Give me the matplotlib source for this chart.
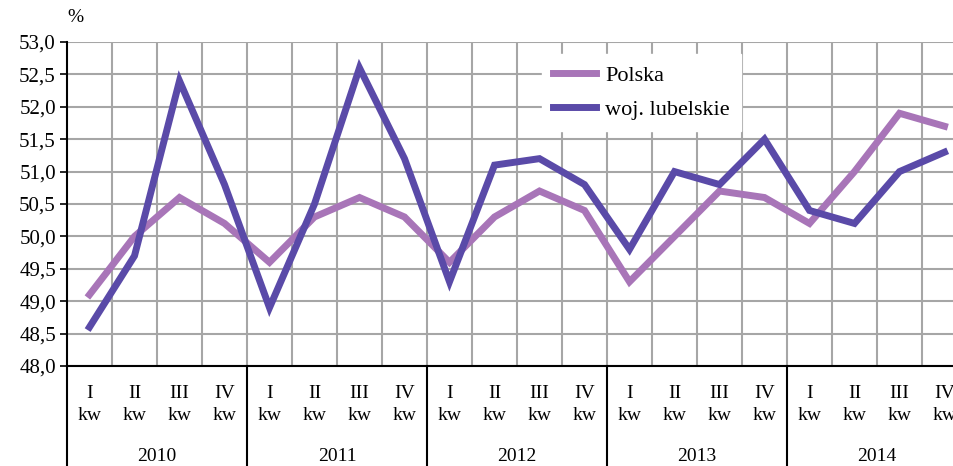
import matplotlib
matplotlib.use("Agg")
import matplotlib.pyplot as plt
from matplotlib.ticker import FuncFormatter, MultipleLocator
import matplotlib.transforms as mtransforms

plt.rcParams['font.family'] = ['Liberation Serif', 'DejaVu Serif']

years = ["2010", "2011", "2012", "2013", "2014"]
quarters = ["I", "II", "III", "IV"]
polska = [49.1, 50.0, 50.6, 50.2,
          49.6, 50.3, 50.6, 50.3,
          49.6, 50.3, 50.7, 50.4,
          49.3, 50.0, 50.7, 50.6,
          50.2, 51.0, 51.9, 51.7]
lubelskie = [48.6, 49.7, 52.4, 50.8,
             48.9, 50.5, 52.6, 51.2,
             49.3, 51.1, 51.2, 50.8,
             49.8, 51.0, 50.8, 51.5,
             50.4, 50.2, 51.0, 51.3]

n = len(polska)
x = list(range(n))

fig = plt.figure(figsize=(9.54, 4.66), dpi=100)
# axes extends past the right edge, as in the cropped original
ax = fig.add_axes([67 / 954, 1 - 366 / 466, 900 / 954, 324 / 466])

ax.plot(x, polska, color="#A875B8", lw=5, solid_joinstyle="miter", label="Polska", zorder=3)
ax.plot(x, lubelskie, color="#5A4AA8", lw=5, solid_joinstyle="miter", label="woj. lubelskie", zorder=4)

ax.set_xlim(-0.5, n - 0.5)
ax.set_ylim(48.0, 53.0)
ax.yaxis.set_major_locator(MultipleLocator(0.5))
ax.yaxis.set_major_formatter(FuncFormatter(lambda v, p: f"{v:.1f}".replace(".", ",")))
ax.tick_params(axis="y", labelsize=15, length=5, width=1.2, direction="out", pad=3)

# vertical grid between quarters
ax.set_xticks([i + 0.5 for i in range(n - 1)], minor=True)
ax.set_xticks([])
ax.grid(True, which="minor", axis="x", color="#A6A6A6", lw=1.5)
ax.grid(True, which="major", axis="y", color="#A6A6A6", lw=1.5)
ax.tick_params(axis="x", which="minor", length=0)
ax.set_axisbelow(True)

for s in ["top", "right"]:
    ax.spines[s].set_visible(False)
ax.spines["left"].set_linewidth(1.5)
ax.spines["bottom"].set_linewidth(1.5)

# category labels
trans = mtransforms.blended_transform_factory(ax.transData, ax.transAxes)
for i in range(n):
    ax.text(i, -0.085, quarters[i % 4], transform=trans, ha="center", va="center", fontsize=14)
    ax.text(i, -0.152, "kw", transform=trans, ha="center", va="center", fontsize=14)
for k, yr in enumerate(years):
    ax.text(4 * k + 1.5, -0.28, yr, transform=trans, ha="center", va="center", fontsize=14)
for k in range(len(years) + 1):
    ax.plot([4 * k - 0.5] * 2, [0, -0.31], transform=trans, color="black", lw=1.5, clip_on=False)

ax.text(-0.5, 1.075, "%", transform=trans, ha="left", va="center", fontsize=14)

leg = ax.legend(loc="upper left", bbox_to_anchor=(0.515, 0.997), frameon=True, fancybox=False,
                edgecolor="white", framealpha=1, fontsize=16, handlelength=1.95,
                handletextpad=0.4, borderpad=0.5, labelspacing=0.6)

fig.savefig("out.png", dpi=100)
